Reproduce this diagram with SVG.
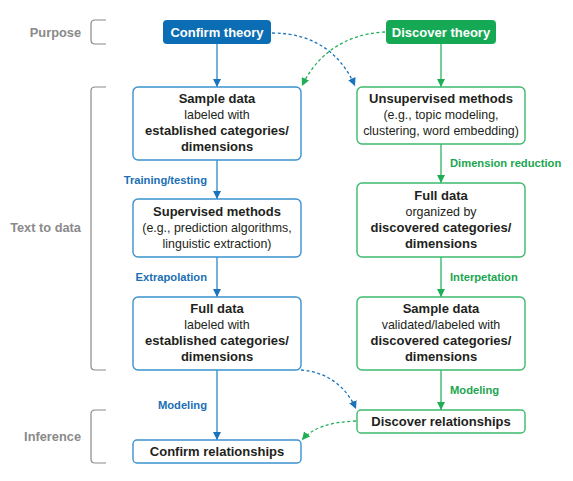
<svg xmlns="http://www.w3.org/2000/svg" width="573" height="481" viewBox="0 0 573 481">
  <defs>
    <marker id="ab" viewBox="0 0 10 10" refX="10" refY="5" markerWidth="8" markerHeight="8" markerUnits="userSpaceOnUse" orient="auto">
      <path d="M0,0 L10,5 L0,10 z" fill="#1a74bb"/>
    </marker>
    <marker id="ag" viewBox="0 0 10 10" refX="10" refY="5" markerWidth="8" markerHeight="8" markerUnits="userSpaceOnUse" orient="auto">
      <path d="M0,0 L10,5 L0,10 z" fill="#1eae55"/>
    </marker>
  </defs>
  <style>
    text { font-family: "Liberation Sans", Arial, sans-serif; font-size: 12.4px; fill: #231f20; }
    .b { font-weight: bold; font-size: 13px; }
    .c { text-anchor: middle; }
    .side { font-weight: bold; fill: #8a8a8a; text-anchor: end; font-size: 12.8px; }
    .brk { fill: none; stroke: #8a8a8a; stroke-width: 1.2; }
    .boxb { fill: #fff; stroke: #3a92d0; stroke-width: 1.4; }
    .boxg { fill: #fff; stroke: #3dba6c; stroke-width: 1.4; }
    .hdr { font-weight: bold; fill: #fff; text-anchor: middle; font-size: 13px; }
    .lb { font-weight: bold; fill: #1a6fb5; font-size: 11.2px; }
    .lg { font-weight: bold; fill: #1aa64f; font-size: 11.2px; }
    .sb { fill: none; stroke: #3a92d0; stroke-width: 1.4; }
    .sg { fill: none; stroke: #3dba6c; stroke-width: 1.4; }
    .db { fill: none; stroke: #1a74bb; stroke-width: 1.3; stroke-dasharray: 3 2.5; }
    .dg { fill: none; stroke: #1eae55; stroke-width: 1.3; stroke-dasharray: 3 2.5; }
  </style>

  <!-- stage labels and brackets -->
  <g id="stages">
    <text class="side" x="81" y="37">Purpose</text>
    <path class="brk" d="M106,20 H95 Q91,20 91,24 V40 Q91,44 95,44 H106"/>
    <text class="side" x="81" y="232">Text to data</text>
    <path class="brk" d="M106,87 H95 Q91,87 91,91 V366 Q91,370 95,370 H106"/>
    <text class="side" x="81" y="441">Inference</text>
    <path class="brk" d="M106,410 H95 Q91,410 91,414 V459 Q91,463 95,463 H106"/>
  </g>

  <!-- connectors -->
  <g id="connectors">
    <line class="sb" x1="217" y1="44" x2="217" y2="87" marker-end="url(#ab)"/>
    <line class="sb" x1="217" y1="160" x2="217" y2="199" marker-end="url(#ab)"/>
    <line class="sb" x1="217" y1="257" x2="217" y2="297" marker-end="url(#ab)"/>
    <line class="sb" x1="217" y1="370" x2="217" y2="440" marker-end="url(#ab)"/>
    <line class="sg" x1="441" y1="44" x2="441" y2="87" marker-end="url(#ag)"/>
    <line class="sg" x1="441" y1="144" x2="441" y2="183" marker-end="url(#ag)"/>
    <line class="sg" x1="441" y1="257" x2="441" y2="297" marker-end="url(#ag)"/>
    <line class="sg" x1="441" y1="370" x2="441" y2="410" marker-end="url(#ag)"/>
    <path class="db" d="M272,33 C318,33 343,58 355,86" marker-end="url(#ab)"/>
    <path class="dg" d="M385,32 C342,34 315,58 302,86" marker-end="url(#ag)"/>
    <path class="db" d="M301,370 C330,372 348,390 356,409" marker-end="url(#ab)"/>
    <path class="dg" d="M356,421 C330,422 312,428 302,440" marker-end="url(#ag)"/>
    <text class="lb" x="207" y="184" text-anchor="end">Training/testing</text>
    <text class="lb" x="207" y="281" text-anchor="end">Extrapolation</text>
    <text class="lb" x="207" y="409" text-anchor="end">Modeling</text>
    <text class="lg" x="450" y="167">Dimension reduction</text>
    <text class="lg" x="450" y="281">Interpetation</text>
    <text class="lg" x="450" y="394">Modeling</text>
  </g>

  <!-- confirm-theory column -->
  <g id="confirm-theory">
    <rect x="163" y="20" width="108" height="24" rx="4" fill="#0b6db3"/>
    <text class="hdr" x="217" y="37">Confirm theory</text>
  </g>
  <g id="sample-data-established">
    <rect class="boxb" x="133" y="87" width="168" height="73" rx="5"/>
    <text class="c b" x="217" y="103">Sample data</text>
    <text class="c" x="217" y="119">labeled with</text>
    <text class="c b" x="217" y="135">established categories/</text>
    <text class="c b" x="217" y="151">dimensions</text>
  </g>
  <g id="supervised-methods">
    <rect class="boxb" x="133" y="199" width="168" height="58" rx="5"/>
    <text class="c b" x="217" y="216">Supervised methods</text>
    <text class="c" x="217" y="232">(e.g., prediction algorithms,</text>
    <text class="c" x="217" y="248">linguistic extraction)</text>
  </g>
  <g id="full-data-established">
    <rect class="boxb" x="133" y="297" width="168" height="73" rx="5"/>
    <text class="c b" x="217" y="313">Full data</text>
    <text class="c" x="217" y="329">labeled with</text>
    <text class="c b" x="217" y="345">established categories/</text>
    <text class="c b" x="217" y="361">dimensions</text>
  </g>
  <g id="confirm-relationships">
    <rect class="boxb" x="133" y="440" width="168" height="23" rx="4"/>
    <text class="c b" x="217" y="456">Confirm relationships</text>
  </g>

  <!-- discover-theory column -->
  <g id="discover-theory">
    <rect x="386" y="20" width="110" height="24" rx="4" fill="#16a955"/>
    <text class="hdr" x="441" y="37">Discover theory</text>
  </g>
  <g id="unsupervised-methods">
    <rect class="boxg" x="357" y="87" width="168" height="57" rx="5"/>
    <text class="c b" x="441" y="103">Unsupervised methods</text>
    <text class="c" x="441" y="119">(e.g., topic modeling,</text>
    <text class="c" x="441" y="135">clustering, word embedding)</text>
  </g>
  <g id="full-data-discovered">
    <rect class="boxg" x="357" y="183" width="168" height="74" rx="5"/>
    <text class="c b" x="441" y="200">Full data</text>
    <text class="c" x="441" y="216">organized by</text>
    <text class="c b" x="441" y="232">discovered categories/</text>
    <text class="c b" x="441" y="248">dimensions</text>
  </g>
  <g id="sample-data-discovered">
    <rect class="boxg" x="357" y="297" width="168" height="73" rx="5"/>
    <text class="c b" x="441" y="313">Sample data</text>
    <text class="c" x="441" y="329">validated/labeled with</text>
    <text class="c b" x="441" y="345">discovered categories/</text>
    <text class="c b" x="441" y="361">dimensions</text>
  </g>
  <g id="discover-relationships">
    <rect class="boxg" x="357" y="410" width="168" height="23" rx="4"/>
    <text class="c b" x="441" y="426">Discover relationships</text>
  </g>
</svg>
